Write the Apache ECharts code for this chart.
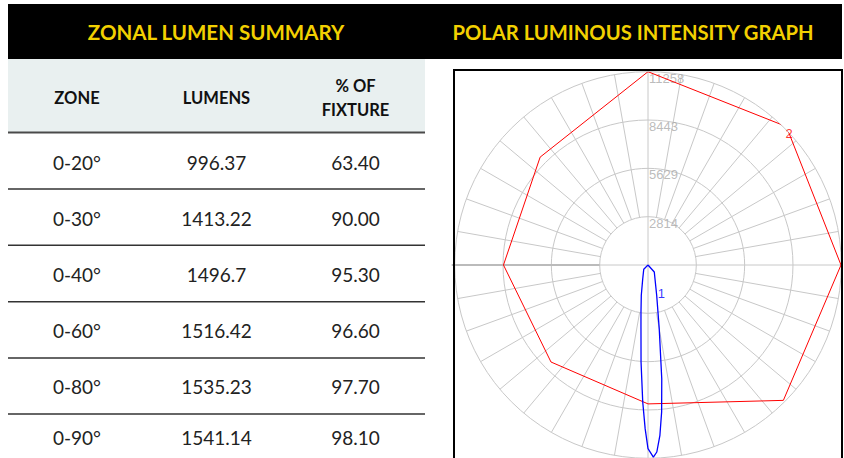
<!DOCTYPE html>
<html><head><meta charset="utf-8">
<script src="https://cdn.jsdelivr.net/npm/echarts@6/dist/echarts.min.js"></script>
<style>html,body{margin:0;padding:0;background:#fff}#c{width:844px;height:458px}</style>
</head><body><div id="c"></div>
<script>
// ---- table data ----
const tableTitle = 'ZONAL LUMEN SUMMARY';
const graphTitle = 'POLAR LUMINOUS INTENSITY GRAPH';
const columnHeaders = ['ZONE', 'LUMENS', '% OF\nFIXTURE'];
const zones = ['0-20°', '0-30°', '0-40°', '0-60°', '0-80°', '0-90°'];
const lumens = ['996.37', '1413.22', '1496.7', '1516.42', '1535.23', '1541.14'];
const percentOfFixture = ['63.40', '90.00', '95.30', '96.60', '97.70', '98.10'];

// ---- polar graph data ----
const ringValues = [2814.5, 5629, 8443.5, 11258];
const ringLabels = ['2814', '5629', '8443', '11258'];
const spokeAngles = [0,10,20,30,40,50,60,70,80,90,100,110,120,130,140,150,160,170,180,190,200,210,220,230,240,250,260,270,280,290,300,310,320,330,340,350];
// curve 2 (red)
const curve2Angles = [0, 45, 90, 135, 180, 225, 270, 315, 360];
const curve2Values = [8090, 11150, 11240, 11400, 11258, 8884, 8417, 7990, 8090];
// curve 1 (blue)
const curve1Angles = [270, 315, 339, 347.5, 351.5, 353.7, 355.9, 357.8, 359, 0, 1.6, 2.7, 4, 5.3, 6.9, 10, 16, 42, 90];
const curve1Values = [0, 350, 856, 1805, 2766, 3727, 5667, 7985, 9534, 10699, 11188, 10903, 9942, 8596, 6668, 3768, 1835, 547, 0];

const chart = echarts.init(document.getElementById('c'), null, {renderer: 'svg'});

// table layout (positions only)
const colX = [77, 216.5, 355.5];
const rowLines = [189, 245.3, 301.7, 358, 414];
const rowTextY = [162, 218, 274, 330, 386, 437];
const tableFont = 'Lato, "Noto Sans", sans-serif';

const graphics = [];
graphics.push({type: 'rect', shape: {x: 8, y: 4, width: 834, height: 55}, style: {fill: '#000'}, z: 0});
graphics.push({type: 'text', x: 216, y: 32, style: {text: tableTitle, fill: '#f2d000', font: 'bold 20.5px ' + tableFont, textAlign: 'center', textVerticalAlign: 'middle'}, z: 1});
graphics.push({type: 'text', x: 633, y: 32, style: {text: graphTitle, fill: '#f2d000', font: 'bold 20.2px ' + tableFont, textAlign: 'center', textVerticalAlign: 'middle'}, z: 1});
graphics.push({type: 'rect', shape: {x: 8, y: 59, width: 417, height: 73}, style: {fill: '#e9f0f0'}, z: 0});
columnHeaders.forEach((h, i) => {
  graphics.push({type: 'text', x: colX[i], y: 98, style: {text: h, fill: '#111', font: 'bold 16.5px ' + tableFont, lineHeight: 24, textAlign: 'center', textVerticalAlign: 'middle'}, z: 1});
});
graphics.push({type: 'line', shape: {x1: 8, y1: 132.5, x2: 425, y2: 132.5}, style: {stroke: '#4a4a4a', lineWidth: 2}, z: 1});
rowLines.forEach(y => {
  graphics.push({type: 'line', shape: {x1: 8, y1: y, x2: 425, y2: y}, style: {stroke: '#333', lineWidth: 1.5}, z: 1});
});
zones.forEach((z, i) => {
  [z, lumens[i], percentOfFixture[i]].forEach((t, j) => {
    graphics.push({type: 'text', x: colX[j], y: rowTextY[i], style: {text: t, fill: '#222', font: '19px ' + tableFont, textAlign: 'center', textVerticalAlign: 'middle'}, z: 1});
  });
});
// frame around polar graph
graphics.push({type: 'rect', shape: {x: 454, y: 70, width: 388, height: 400}, style: {fill: 'none', stroke: '#000', lineWidth: 2}, z: 10});

const rMax = ringValues[ringValues.length - 1];

chart.setOption({
  animation: false,
  graphic: {elements: graphics},
  polar: {center: [648, 265], radius: 193.3},
  angleAxis: {
    type: 'value', min: 0, max: 360, startAngle: -90, clockwise: false,
    axisLine: {show: false}, axisTick: {show: false}, axisLabel: {show: false}, splitLine: {show: false}
  },
  radiusAxis: {
    type: 'value', min: 0, max: rMax, interval: ringValues[0],
    axisLine: {show: false}, axisTick: {show: false}, axisLabel: {show: false},
    splitLine: {show: true, lineStyle: {color: '#c8c8c8', width: 1}}
  },
  series: [
    {
      type: 'custom', coordinateSystem: 'polar', silent: true, z: 1,
      data: spokeAngles.map(a => [rMax, a]),
      renderItem(params, api) {
        const a = api.value(1);
        const r1 = api.value(0);
        const inner = (a % 90 === 0) ? 0 : ringValues[0];
        const p0 = api.coord([inner, a]);
        const p1 = api.coord([r1, a]);
        if (a === 270) {
          const pm = api.coord([ringValues[0], a]);
          return {type: 'group', children: [
            {type: 'line', shape: {x1: p0[0], y1: p0[1], x2: pm[0], y2: pm[1]}, style: {stroke: '#c8c8c8', lineWidth: 1}},
            {type: 'line', shape: {x1: pm[0], y1: pm[1], x2: p1[0] - 3, y2: p1[1]}, style: {stroke: '#bbbbbb', lineWidth: 2}}
          ]};
        }
        return {type: 'line', shape: {x1: p0[0], y1: p0[1], x2: p1[0], y2: p1[1]}, style: {stroke: '#c8c8c8', lineWidth: 1}};
      }
    },
    {
      type: 'scatter', coordinateSystem: 'polar', silent: true, z: 2, symbolSize: 0,
      data: ringValues.map((v, i) => ({value: [v, 180], name: ringLabels[i]})),
      label: {show: true, formatter: p => p.name, position: [1, 0], align: 'left', verticalAlign: 'top',
        color: '#aaaaaa', fontSize: 13, fontFamily: '"Liberation Sans", Arial, sans-serif', lineHeight: 13}
    },
    {
      name: '2', type: 'line', coordinateSystem: 'polar', z: 3, symbol: 'none', silent: true,
      data: curve2Angles.map((a, i) => [curve2Values[i], a]),
      lineStyle: {color: '#ff0000', width: 1}
    },
    {
      name: '1', type: 'line', coordinateSystem: 'polar', z: 3, symbol: 'none', silent: true,
      data: curve1Angles.map((a, i) => [curve1Values[i], a]),
      lineStyle: {color: '#0000ff', width: 1.3}
    },
    {
      type: 'scatter', coordinateSystem: 'polar', silent: true, z: 4, symbolSize: 0, clip: false,
      data: [
        {value: [curve2Values[3], curve2Angles[3]], name: '2', label: {color: '#ff0000', position: [-1, 0]}},
        {value: [curve1Values[16], curve1Angles[16]], name: '1', label: {color: '#0000ff', position: [1, -8]}}
      ],
      label: {show: true, formatter: p => p.name, align: 'left', verticalAlign: 'top', fontSize: 13,
        fontFamily: '"Liberation Sans", Arial, sans-serif'}
    }
  ]
});
</script>
</body></html>
